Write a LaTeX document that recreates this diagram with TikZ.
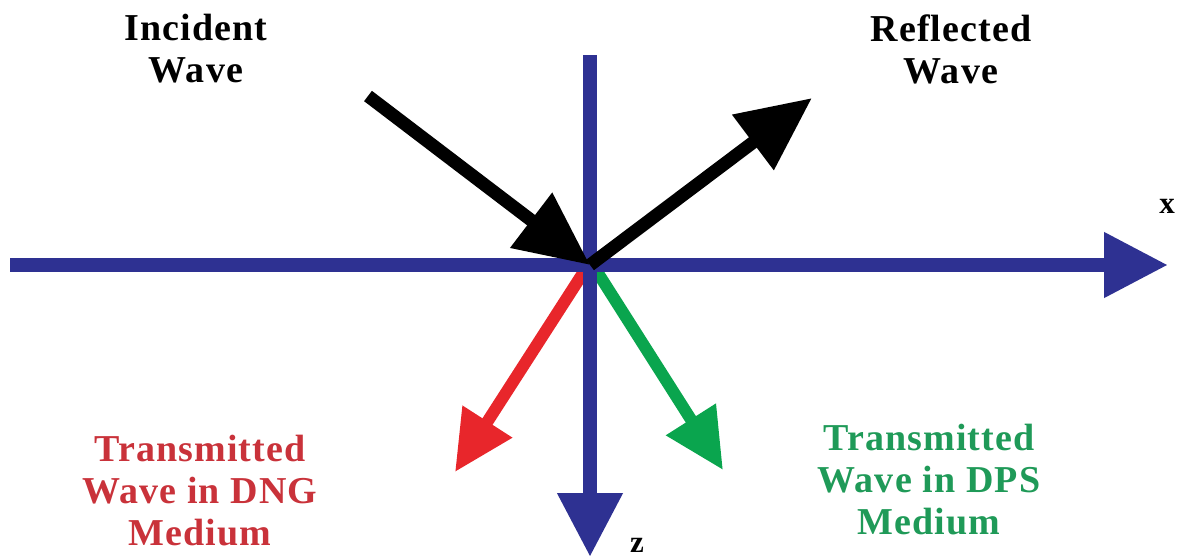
\documentclass[tikz,border=0pt]{standalone}
\usepackage{fontspec}
\setmainfont{Liberation Serif}
\usetikzlibrary{arrows.meta}
\definecolor{axisblue}{HTML}{2E3192}
\definecolor{tred}{HTML}{E8262B}
\definecolor{tgreen}{HTML}{0AA54E}
\definecolor{lred}{HTML}{C9323A}
\definecolor{lgreen}{HTML}{1F9A58}
\tikzset{
  axis/.style={draw=axisblue, line width=14pt, -{Triangle[length=64pt,width=62pt]}},
  blackarr/.style={draw=black, line width=13pt, -{Triangle[length=74pt,width=66pt]}},
  transarr/.style={line width=12pt, -{Triangle[length=60pt,width=56pt]}},
  lbl/.style={font=\bfseries\fontsize{38}{42}\selectfont\addfontfeature{LetterSpace=3}, align=center, inner sep=0pt},
  axlbl/.style={font=\bfseries\fontsize{31}{32}\selectfont, inner sep=0pt, anchor=base},
}
\begin{document}
\begin{tikzpicture}[x=1pt,y=-1pt]
\useasboundingbox (0,0) rectangle (1185,557);
\coordinate (O) at (590,265);
\coordinate (xs) at (10,265);
\coordinate (xe) at (1168,265);
\coordinate (zs) at (590,55);
\coordinate (ze) at (590,557);
\coordinate (inc) at (368,96);
\coordinate (ref) at (812,98);
\coordinate (dng) at (455,472);
\coordinate (dps) at (723,470);
\coordinate (Ol) at (585,270);
\coordinate (Or) at (596,270);
% transmitted
\draw[transarr, draw=tred, fill=tred] (Ol) -- (dng);
\draw[transarr, draw=tgreen, fill=tgreen] (Or) -- (dps);
% axes
\draw[axis] (xs) -- (xe);
\draw[axis] (zs) -- (ze);
% incident / reflected
\draw[blackarr] (inc) -- (O);
\draw[blackarr] (O) -- (ref);
% labels
\node[lbl] (tinc) at (196,49) {Incident\\Wave};
\node[lbl] (tref) at (951,49) {Reflected\\Wave};
\node[lbl, text=lred] (tdng) at (200,491) {Transmitted\\Wave in DNG\\Medium};
\node[lbl, text=lgreen] (tdps) at (929,480) {Transmitted\\Wave in DPS\\Medium};
\node[axlbl] (lx) at (1167,213) {x};
\node[axlbl] (lz) at (637,552) {z};
\end{tikzpicture}
\end{document}
